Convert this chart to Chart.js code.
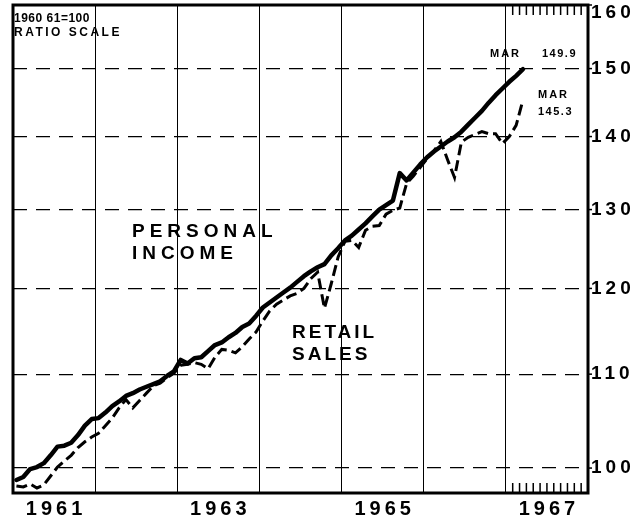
<!DOCTYPE html>
<html lang="en">
<head>
<meta charset="UTF-8">
<title>Personal Income and Retail Sales</title>
<style>
    html, body {
        margin: 0;
        padding: 0;
        background: #ffffff;
    }
    canvas {
        display: block;
    }
</style>
<script src="https://cdn.jsdelivr.net/npm/chart.js@4.4.1/dist/chart.umd.min.js"></script>
</head>
<body>
<canvas id="chart" width="636" height="518"></canvas>
<script>
    // monthly values, Jan 1961 .. Mar 1967, 1960-61 = 100
    const firstYear = 1961;
    const income = [
        98.8, 99.1, 99.9, 100.1, 100.5, 101.3, 102.2, 102.3, 102.6, 103.4, 104.4, 105.1,
        105.2, 105.8, 106.5, 107.0, 107.6, 107.9, 108.3, 108.6, 108.9, 109.2, 109.8, 110.3,
        111.6, 111.2, 111.8, 111.9, 112.6, 113.3, 113.6, 114.2, 114.7, 115.4, 115.8, 116.7,
        117.7, 118.3, 118.9, 119.5, 120.1, 120.8, 121.5, 122.1, 122.6, 123.0, 124.1, 125.0,
        126.0, 126.6, 127.4, 128.2, 129.1, 130.0, 130.6, 131.2, 134.9, 133.9, 135.0, 136.1,
        137.1, 137.9, 138.6, 139.3, 139.9, 140.7, 141.7, 142.7, 143.7, 144.9, 146.0, 147.0,
        148.0, 148.9, 149.9
    ];
    const retail = [
        98.2, 98.1, 98.4, 98.0, 98.3, 99.2, 100.1, 100.7, 101.3, 102.1, 102.7, 103.2,
        103.6, 104.4, 105.2, 106.3, 107.2, 106.3, 107.1, 107.9, 108.7, 109.0, 109.6, 110.1,
        111.0, 111.1, 111.3, 111.1, 110.6, 111.9, 112.8, 112.7, 112.4, 113.1, 114.0, 114.8,
        116.1, 117.3, 118.1, 118.6, 119.1, 119.4, 120.0, 121.2, 122.0, 117.6, 120.6, 123.9,
        125.9, 126.0, 125.1, 127.3, 127.8, 127.9, 129.4, 129.9, 130.2, 133.5, 134.5, 135.7,
        136.9, 138.0, 139.3, 136.7, 134.3, 139.2, 139.9, 140.3, 140.7, 140.4, 140.4, 139.0,
        140.0, 141.6, 145.3
    ];
    const yearLabels = ['1961', '1963', '1965', '1967'];
    const yTicks = [100, 110, 120, 130, 140, 150, 160];

    const toPoints = arr => arr.map((v, i) => ({ x: i + 0.5, y: v }));

    function spacedText(ctx, text, x, y, spacing) {
        ctx.letterSpacing = spacing + 'px';
        ctx.fillText(text, x, y);
    }

    const decorations = {
        id: 'decorations',
        afterDraw(chart) {
            const { ctx, chartArea: a, scales: { x, y } } = chart;
            ctx.save();
            ctx.strokeStyle = '#000';
            ctx.fillStyle = '#000';

            // frame
            ctx.lineWidth = 3;
            ctx.strokeRect(a.left, a.top, a.right - a.left, a.bottom - a.top);

            // month ticks for 1967
            ctx.lineWidth = 1.5;
            for (let m = 73; m < 84; m++) {
                const px = x.getPixelForValue(m);
                ctx.beginPath();
                ctx.moveTo(px, a.bottom);
                ctx.lineTo(px, a.bottom - 10);
                ctx.moveTo(px, a.top);
                ctx.lineTo(px, a.top + 10);
                ctx.stroke();
            }

            // right axis labels
            ctx.font = 'bold 19px "Liberation Sans"';
            ctx.textAlign = 'left';
            ctx.textBaseline = 'middle';
            yTicks.forEach(v => {
                const py = y.getPixelForValue(v);
                ctx.beginPath();
                ctx.moveTo(a.right, py);
                ctx.lineTo(a.right + 4, py);
                ctx.stroke();
                spacedText(ctx, String(v), a.right + 3, Math.max(py, 13), 4);
            });

            // year labels
            ctx.font = 'bold 20px "Liberation Sans"';
            ctx.textAlign = 'center';
            ctx.textBaseline = 'alphabetic';
            yearLabels.forEach(lab => {
                const px = x.getPixelForValue((Number(lab) - firstYear) * 12 + 6);
                spacedText(ctx, lab, px + 2, 515, 4);
            });

            // notes
            ctx.textAlign = 'left';
            ctx.font = 'bold 12px "Liberation Sans"';
            spacedText(ctx, '1960 61=100', 14, 22, 0.5);
            spacedText(ctx, 'RATIO SCALE', 14, 36, 2.5);
            ctx.font = 'bold 11px "Liberation Sans"';
            spacedText(ctx, 'MAR', 490, 57, 2);
            spacedText(ctx, '149.9', 542, 57, 1.5);
            spacedText(ctx, 'MAR', 538, 98, 2);
            spacedText(ctx, '145.3', 538, 115, 1.5);

            ctx.font = 'bold 19px "Liberation Sans"';
            spacedText(ctx, 'PERSONAL', 132, 237, 5);
            spacedText(ctx, 'INCOME', 132, 259, 5);
            spacedText(ctx, 'RETAIL', 292, 338, 3);
            spacedText(ctx, 'SALES', 292, 360, 3);

            ctx.restore();
        }
    };

    const ctx = document.getElementById('chart').getContext('2d');
    new Chart(ctx, {
        type: 'line',
        data: {
            datasets: [
                {
                    label: 'Personal income',
                    data: toPoints(income),
                    borderColor: '#000',
                    borderWidth: 4.5,
                    pointRadius: 0,
                    borderJoinStyle: 'round',
                    borderCapStyle: 'round'
                },
                {
                    label: 'Retail sales',
                    data: toPoints(retail),
                    borderColor: '#000',
                    borderWidth: 3,
                    borderDash: [11, 5],
                    pointRadius: 0
                }
            ]
        },
        options: {
            responsive: false,
            animation: false,
            layout: { padding: { left: 13, top: 5, right: 0, bottom: 0 } },
            plugins: {
                legend: { display: false },
                tooltip: { enabled: false }
            },
            scales: {
                x: {
                    type: 'linear',
                    min: 0,
                    max: 84,
                    afterBuildTicks: s => { s.ticks = [12, 24, 36, 48, 60, 72].map(v => ({ value: v })); },
                    afterFit: s => { s.height = 25; },
                    ticks: { display: false },
                    grid: { color: '#000', lineWidth: 1, drawTicks: false },
                    border: { display: false }
                },
                y: {
                    type: 'logarithmic',
                    position: 'right',
                    min: 97.5,
                    max: 160,
                    afterBuildTicks: s => { s.ticks = yTicks.map(v => ({ value: v })); },
                    afterFit: s => { s.width = 48; },
                    ticks: { display: false },
                    grid: { color: '#000', lineWidth: 1.2, drawTicks: false },
                    border: { display: false, dash: [14, 9] }
                }
            }
        },
        plugins: [decorations]
    });
</script>
</body>
</html>
